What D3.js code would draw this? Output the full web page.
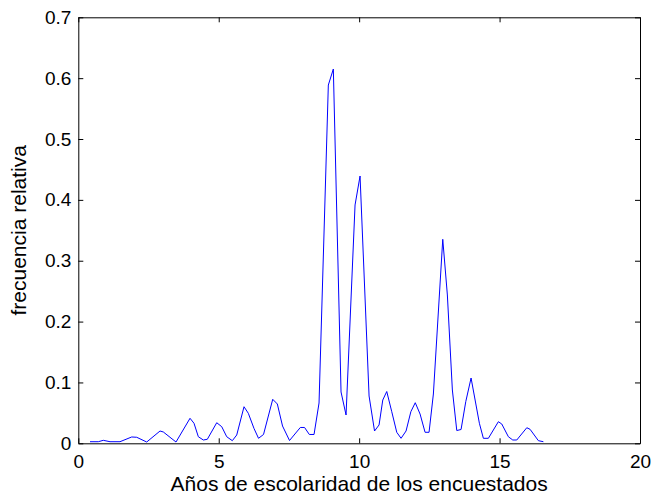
<!DOCTYPE html>
<html>
<head>
<meta charset="utf-8">
<script src="https://cdn.jsdelivr.net/npm/d3@7/dist/d3.min.js"></script>
<style>
  html, body { margin: 0; padding: 0; background: #fff; }
  svg { display: block; }
  text { font-family: "Liberation Sans", Arial, Helvetica, sans-serif; }
</style>
</head>
<body>
<svg id="chart" width="653" height="500"></svg>
<script>
// Years of schooling (x) and relative frequency (y)
const years = [0.417, 0.712, 0.890, 1.129, 1.485, 1.902, 2.080, 2.436, 2.910, 3.027,
  3.479, 3.978, 4.120, 4.274, 4.452, 4.594, 4.929, 5.107, 5.285, 5.484,
  5.641, 5.901, 6.054, 6.257, 6.417, 6.595, 6.923, 7.087, 7.272, 7.521,
  7.906, 8.056, 8.226, 8.394, 8.572, 8.903, 9.081, 9.355, 9.534, 9.854,
  10.032, 10.353, 10.548, 10.709, 10.841, 10.983, 11.161, 11.339, 11.492, 11.670,
  11.841, 11.998, 12.169, 12.347, 12.489, 12.643, 12.977, 13.141, 13.319, 13.476,
  13.629, 13.796, 13.985, 14.281, 14.423, 14.601, 14.957, 15.078, 15.313, 15.470,
  15.612, 15.969, 16.086, 16.382, 16.560];
const freq = [0.0026, 0.0026, 0.0049, 0.0026, 0.0026, 0.0104, 0.0099, 0.0021, 0.0202, 0.0186,
  0.0021, 0.0411, 0.0329, 0.0108, 0.0054, 0.0066, 0.0338, 0.0273, 0.0108, 0.0043,
  0.0136, 0.0601, 0.0493, 0.0243, 0.0082, 0.0145, 0.0723, 0.0646, 0.0284, 0.0046,
  0.0260, 0.0260, 0.0145, 0.0145, 0.0662, 0.5887, 0.6150, 0.0843, 0.0465, 0.3916,
  0.4392, 0.0777, 0.0202, 0.0301, 0.0711, 0.0851, 0.0519, 0.0181, 0.0082, 0.0202,
  0.0519, 0.0667, 0.0481, 0.0181, 0.0181, 0.0810, 0.3352, 0.2437, 0.0876, 0.0210,
  0.0227, 0.0684, 0.1073, 0.0329, 0.0082, 0.0082, 0.0355, 0.0317, 0.0108, 0.0054,
  0.0054, 0.0256, 0.0230, 0.0043, 0.0026];
const xTicks = [0, 5, 10, 15, 20];
const yTicks = [0, 0.1, 0.2, 0.3, 0.4, 0.5, 0.6, 0.7];
const xLabel = "Años de escolaridad de los encuestados";
const yLabel = "frecuencia relativa";

const svg = d3.select("#chart");
const L = 78.3, R = 640, T = 17.3, B = 443.3;
const x = d3.scaleLinear().domain([0, 20]).range([L, R]);
const y = d3.scaleLinear().domain([0, 0.7]).range([B, T]);
const tickLen = 5;

// line
const pts = years.map((v, i) => [v, freq[i]]);
svg.append("path")
  .datum(pts)
  .attr("fill", "none")
  .attr("stroke", "#0000ff")
  .attr("stroke-width", 1)
  .attr("d", d3.line().x(d => x(d[0])).y(d => y(d[1])));

// axes
const fmtY = d => d === 0 ? "0" : d3.format(".1f")(d);
const axB = svg.append("g").attr("transform", `translate(0,${B})`)
  .call(d3.axisBottom(x).tickValues(xTicks).tickSizeInner(-tickLen).tickSizeOuter(0).tickPadding(11));
const axL = svg.append("g").attr("transform", `translate(${L},0)`)
  .call(d3.axisLeft(y).tickValues(yTicks).tickFormat(fmtY).tickSizeInner(-tickLen).tickSizeOuter(0).tickPadding(7));
const axT = svg.append("g").attr("transform", `translate(0,${T})`)
  .call(d3.axisTop(x).tickValues(xTicks).tickSizeInner(-tickLen).tickSizeOuter(0).tickFormat(""));
const axR = svg.append("g").attr("transform", `translate(${R},0)`)
  .call(d3.axisRight(y).tickValues(yTicks).tickSizeInner(-tickLen).tickSizeOuter(0).tickFormat(""));

[axB, axL, axT, axR].forEach(g => {
  g.selectAll("path.domain").attr("stroke", "#000").attr("stroke-width", 1);
  g.selectAll("line").attr("stroke", "#000");
  g.selectAll("text").attr("fill", "#000").style("font-size", "19px")
    .style("font-family", '"Liberation Sans", Arial, sans-serif');
});

svg.append("text")
  .attr("x", (L + R) / 2).attr("y", 491)
  .attr("text-anchor", "middle")
  .style("font-size", "21px")
  .text(xLabel);

svg.append("text")
  .attr("transform", `translate(26,${(T + B) / 2}) rotate(-90)`)
  .attr("text-anchor", "middle")
  .style("font-size", "21px")
  .text(yLabel);
</script>
</body>
</html>
